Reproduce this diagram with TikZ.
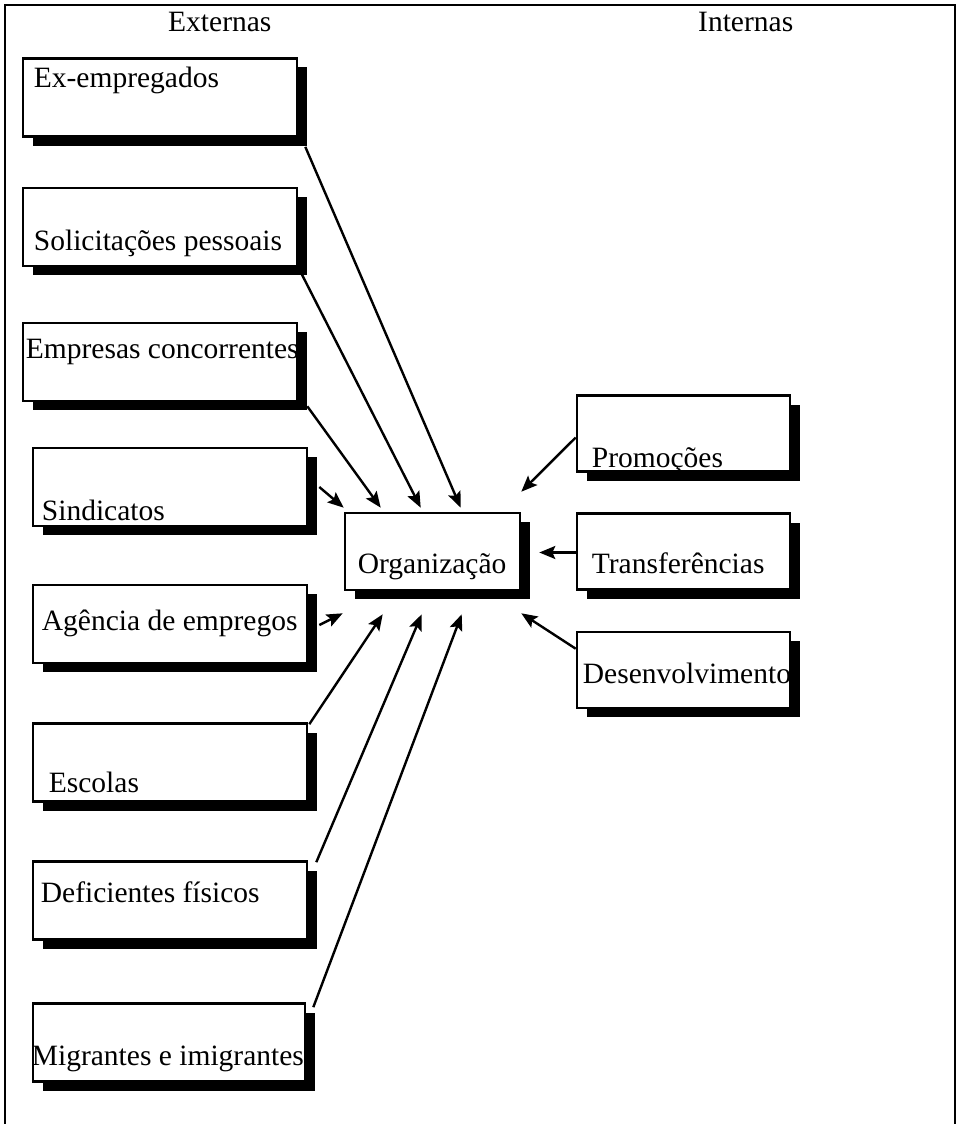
\documentclass[tikz,border=0pt]{standalone}
\usepackage{fontspec}
\setmainfont{Liberation Serif}
\usetikzlibrary{arrows.meta,shadows}

\tikzset{
    caixa/.style={draw, line width=2.6pt, fill=white, rectangle, inner sep=0pt,
        drop shadow={shadow xshift=10pt, shadow yshift=-9pt, fill=black, opacity=1}},
    externa/.style={caixa, minimum width=274pt, minimum height=78pt},
    interna/.style={caixa, minimum width=213pt, minimum height=76pt},
    rotulo/.style={anchor=base west, inner sep=0pt, font=\fontsize{29.5}{35}\selectfont},
    seta/.style={line width=2.4pt, -{Stealth[length=16pt, width=13pt, inset=3pt]}}
}

\begin{document}
\begin{tikzpicture}[x=1pt, y=-1pt]

    \useasboundingbox (0,0) rectangle (957,1124);

    %% Frame and headings
    \draw[line width=2.4pt] (5,1124) -- (5,5) -- (955,5) -- (955,1124);
    \node[rotulo] (ext) at (168,32) {Externas};
    \node[rotulo] (int) at (698,32) {Internas};

    %% External sources
    \node[externa] (exemp) at (160,97.5) {};
    \node[rotulo] (exemp-t) at ([shift={(12,-10.5)}]exemp.west) {Ex-empregados};

    \node[externa] (solic) at (160,227) {};
    \node[rotulo] (solic-t) at ([shift={(12,23)}]solic.west) {Solicitações pessoais};

    \node[externa] (empres) at (160,362) {};
    \node[rotulo] (empres-t) at ([shift={(4,-4)}]empres.west) {Empresas concorrentes};

    \node[externa] (sind) at (170,487) {};
    \node[rotulo] (sind-t) at ([shift={(10,33)}]sind.west) {Sindicatos};

    \node[externa] (agenc) at (170,624) {};
    \node[rotulo] (agenc-t) at ([shift={(10,6)}]agenc.west) {Agência de empregos};

    \node[externa] (escol) at (170,762.5) {};
    \node[rotulo] (escol-t) at ([shift={(17,29.5)}]escol.west) {Escolas};

    \node[externa] (defic) at (170,900.5) {};
    \node[rotulo] (defic-t) at ([shift={(9,1.5)}]defic.west) {Deficientes físicos};

    \node[externa, minimum width=272pt] (migr) at (169,1042.5) {};
    \node[rotulo] (migr-t) at ([shift={(0,22.5)}]migr.west) {Migrantes e imigrantes};

    %% Organization
    \node[caixa, minimum width=175pt, minimum height=77pt] (org) at (432.5,551.5) {};
    \node[rotulo] (org-t) at ([shift={(14,21.5)}]org.west) {Organização};

    %% Internal sources
    \node[interna] (prom) at (683.5,433.5) {};
    \node[rotulo] (prom-t) at ([shift={(16,33.5)}]prom.west) {Promoções};

    \node[interna] (transf) at (683.5,551.5) {};
    \node[rotulo] (transf-t) at ([shift={(16,21.5)}]transf.west) {Transferências};

    \node[interna] (desenv) at (683.5,670) {};
    \node[rotulo] (desenv-t) at ([shift={(7,13)}]desenv.west) {Desenvolvimento};

    %% Arrows into the organization
    \draw[seta] ([shift={(7,9)}]exemp.south east) -- ([shift={(117,-4)}]org.north west);
    \draw[seta] ([shift={(3,6)}]solic.south east) -- ([shift={(77,-4)}]org.north west);
    \draw[seta] ([shift={(9,4)}]empres.south east) -- ([shift={(37,-4)}]org.north west);
    \draw[seta] ([shift={(11,0)}]sind.east) -- ([shift={(0,-4)}]org.north west);
    \draw[seta] ([shift={(11,1)}]agenc.east) -- ([shift={(-1,22)}]org.south west);
    \draw[seta] ([shift={(1,2)}]escol.north east) -- ([shift={(39,23)}]org.south west);
    \draw[seta] ([shift={(8,2)}]defic.north east) -- ([shift={(78,23)}]org.south west);
    \draw[seta] ([shift={(7,5)}]migr.north east) -- ([shift={(118,23)}]org.south west);

    \draw[seta] ([shift={(0,4)}]prom.west) -- ([shift={(0,-20)}]org.north east);
    \draw[seta] ([shift={(0,1)}]transf.west) -- ([shift={(18,1)}]org.east);
    \draw[seta] ([shift={(0,18)}]desenv.north west) -- ([shift={(0,22)}]org.south east);

\end{tikzpicture}
\end{document}
